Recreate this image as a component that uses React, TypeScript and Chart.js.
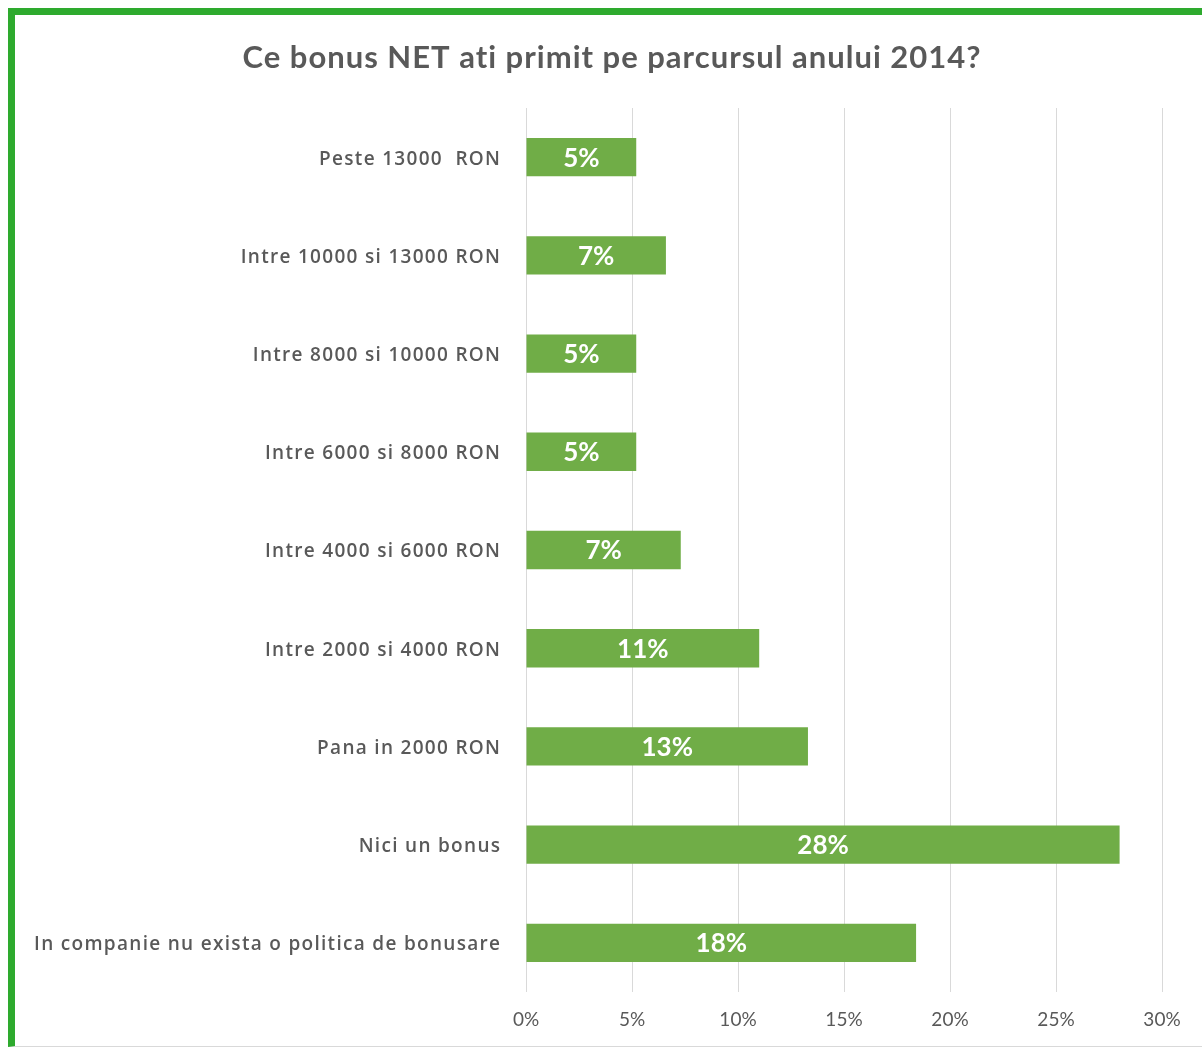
import React, { useEffect, useRef } from "react";
import { Chart, registerables } from "chart.js";

Chart.register(...registerables);

const TITLE = "Ce bonus NET ati primit pe parcursul anului 2014?";
const categories = [
  "Peste 13000  RON",
  "Intre 10000 si 13000 RON",
  "Intre 8000 si 10000 RON",
  "Intre 6000 si 8000 RON",
  "Intre 4000 si 6000 RON",
  "Intre 2000 si 4000 RON",
  "Pana in 2000 RON",
  "Nici un bonus",
  "In companie nu exista o politica de bonusare",
];
const values = [5.2, 6.6, 5.2, 5.2, 7.3, 11.0, 13.3, 28.0, 18.4];
const valueLabels = ["5%", "7%", "5%", "5%", "7%", "11%", "13%", "28%", "18%"];
const xTicks = [0, 5, 10, 15, 20, 25, 30];

const FONT = "Lato, 'Noto Sans', sans-serif";
const LABEL_FONT = "'Open Sans', 'Noto Sans', sans-serif";
const TEXT = "#595959";
const BAR = "#70AD47";
const GRID = "#D9D9D9";

const textPlugin = {
  id: "textPlugin",
  afterDraw(chart: any) {
    const ctx = chart.ctx;
    const area = chart.chartArea;
    // title
    ctx.save();
    ctx.fillStyle = TEXT;
    ctx.font = `bold 31px ${FONT}`;
    ctx.textAlign = "center";
    ctx.textBaseline = "middle";
    (ctx as any).letterSpacing = "1px";
    ctx.fillText(TITLE, 612, 58);
    ctx.restore();
    // category labels
    const yScale = chart.scales.y;
    ctx.save();
    ctx.fillStyle = TEXT;
    ctx.font = `600 19px ${LABEL_FONT}`;
    ctx.textAlign = "right";
    ctx.textBaseline = "middle";
    (ctx as any).letterSpacing = "1.3px";
    categories.forEach((c, i) => {
      ctx.fillText(c, area.left - 26 + 1.3, yScale.getPixelForTick(i) + 2);
    });
    ctx.restore();
  },
  afterDatasetsDraw(chart: any) {
    const ctx = chart.ctx;
    const meta = chart.getDatasetMeta(0);
    ctx.save();
    ctx.fillStyle = "#FFFFFF";
    ctx.font = `bold 26px ${FONT}`;
    ctx.textAlign = "center";
    ctx.textBaseline = "middle";
    meta.data.forEach((el: any, i: number) => {
      const cx = (el.x + el.base) / 2;
      ctx.fillText(valueLabels[i], cx, el.y + 1);
    });
    ctx.restore();
  },
};

export default function App() {
  const ref = useRef<HTMLCanvasElement>(null);
  useEffect(() => {
    if (!ref.current) return;
    const chart = new Chart(ref.current, {
      type: "bar",
      data: {
        labels: categories,
        datasets: [
          {
            data: values,
            backgroundColor: BAR,
            borderWidth: 0,
            barPercentage: 0.78,
            categoryPercentage: 0.5,
          },
        ],
      },
      options: {
        indexAxis: "y",
        animation: false,
        responsive: false,
        devicePixelRatio: 1,
        layout: { padding: { left: 0, right: 40, top: 108, bottom: 0 } },
        plugins: {
          legend: { display: false },
          tooltip: { enabled: false },
          title: { display: false },
        },
        scales: {
          x: {
            min: 0,
            max: 30,
            afterBuildTicks: (s: any) => {
              s.ticks = xTicks.map((v) => ({ value: v }));
            },
            afterFit: (s: any) => {
              s.height = 56;
            },
            ticks: {
              color: TEXT,
              font: { family: FONT, size: 19 },
              padding: 16,
              callback: (v: any) => v + "%",
            },
            grid: { color: GRID, lineWidth: 1, drawTicks: false },
            border: { display: false },
          },
          y: {
            afterFit: (s: any) => {
              s.width = 526;
            },
            ticks: { display: false },
            grid: { display: false, drawTicks: false },
            border: { display: false },
          },
        },
      },
      plugins: [textPlugin],
    });
    return () => chart.destroy();
  }, []);

  return (
    <div
      style={{
        position: "absolute",
        left: 0,
        top: 0,
        width: 1202,
        height: 1048,
        overflow: "hidden",
        background: "#fff",
      }}
    >
      <div
        style={{
          position: "absolute",
          left: 8,
          top: 8,
          width: 1300,
          height: 1031,
          borderLeft: "7px solid #2EAA2E",
          borderTop: "7px solid #2EAA2E",
          borderBottom: "1px solid #D9D9D9",
          background: "#fff",
        }}
      />
      <canvas
        ref={ref}
        width={1202}
        height={1048}
        style={{ position: "absolute", left: 0, top: 0 }}
      />
    </div>
  );
}
